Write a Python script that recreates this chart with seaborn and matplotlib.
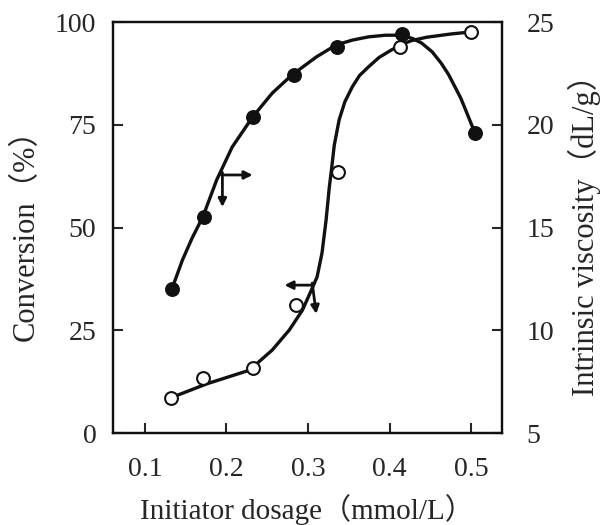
import numpy as np
import pandas as pd
import seaborn as sns
import matplotlib
matplotlib.use("Agg")
import matplotlib.pyplot as plt

# measured points
dosage_conv = [0.132, 0.171, 0.233, 0.285, 0.337, 0.413, 0.500]
conversion = [8.5, 13.4, 15.8, 31.1, 63.5, 93.9, 97.6]

dosage_visc = [0.133, 0.172, 0.232, 0.283, 0.335, 0.415, 0.504]
viscosity = [12.0, 15.5, 20.4, 22.4, 23.8, 24.4, 19.6]

# hand-drawn trend curves
conv_curve_x = [0.137, 0.176, 0.228, 0.256, 0.277, 0.293, 0.304, 0.311, 0.317,
                0.322, 0.326, 0.329, 0.332, 0.338, 0.345, 0.354, 0.363, 0.374,
                0.387, 0.402, 0.415, 0.427, 0.445, 0.460, 0.475, 0.500]
conv_curve_y = [9.0, 12.0, 15.3, 20.2, 25.1, 29.9, 34.8, 38.0, 43.8,
                51.8, 59.9, 64.7, 70.0, 76.2, 80.6, 84.2, 87.0, 89.1,
                91.4, 93.2, 94.6, 95.5, 96.3, 96.7, 97.1, 97.6]

visc_curve_x = [0.133, 0.146, 0.158, 0.171, 0.188, 0.207, 0.232, 0.256, 0.280,
                0.310, 0.334, 0.354, 0.374, 0.395, 0.413, 0.428, 0.439, 0.452,
                0.463, 0.472, 0.480, 0.487, 0.493, 0.504]
visc_curve_y = [12.0, 13.42, 14.5, 15.52, 17.32, 18.92, 20.38, 21.54, 22.42,
                23.30, 23.88, 24.12, 24.28, 24.36, 24.36, 24.20, 23.98, 23.55,
                23.0, 22.45, 21.84, 21.3, 20.72, 19.64]

sns.set_style("ticks")
plt.rcParams["font.family"] = ["Liberation Serif", "Noto Sans CJK SC"]
plt.rcParams["axes.linewidth"] = 1.6

fig = plt.figure(figsize=(6.09, 5.25), dpi=100)
ax = fig.add_axes([0.1856, 0.175, 0.638, 0.783])
ax2 = ax.twinx()

ink = "#111111"

sns.lineplot(x=conv_curve_x, y=conv_curve_y, ax=ax, color=ink, linewidth=2.4,
             sort=False, estimator=None)
sns.scatterplot(x=dosage_conv, y=conversion, ax=ax, marker="o", s=85,
                facecolor="white", edgecolor=ink, linewidth=1.5, zorder=5)

sns.lineplot(x=visc_curve_x, y=visc_curve_y, ax=ax2, color=ink, linewidth=2.4,
             sort=False, estimator=None)
sns.scatterplot(x=dosage_visc, y=viscosity, ax=ax2, marker="o", s=95,
                color=ink, edgecolor=ink, linewidth=1, zorder=5)

ax.set_xlim(0.061, 0.537)
ax.set_ylim(0, 100)
ax2.set_ylim(5, 25)
ax.set_xticks([0.1, 0.2, 0.3, 0.4, 0.5])
ax.set_xticklabels(["0.1", "0.2", "0.3", "0.4", "0.5"])
ax.set_yticks([0, 25, 50, 75, 100])
ax2.set_yticks([5, 10, 15, 20, 25])

ax.tick_params(axis="x", direction="in", length=7, width=1.5, pad=17, labelsize=20)
ax.tick_params(axis="y", direction="in", length=7, width=1.5, pad=12, labelsize=20)
ax2.tick_params(axis="y", direction="in", length=7, width=1.5, pad=18, labelsize=20)

ax.set_xlabel("Initiator dosage（mmol/L）", fontsize=21, labelpad=9)
ax.set_ylabel("Conversion（%）", fontsize=22, labelpad=10)
ax2.set_ylabel("Intrinsic viscosity（dL/g）", fontsize=22, labelpad=10)

for s in ax.spines.values():
    s.set_color(ink)
for s in ax2.spines.values():
    s.set_color(ink)

# axis indicator arrows
arrow = dict(arrowstyle="-|>", color=ink, lw=2, mutation_scale=12, shrinkA=0, shrinkB=0)
ax.annotate("", xy=(0.232, 62.8), xytext=(0.194, 62.8), arrowprops=arrow)
ax.annotate("", xy=(0.195, 55.0), xytext=(0.195, 63.4), arrowprops=arrow)
ax.annotate("", xy=(0.271, 36.0), xytext=(0.306, 36.0), arrowprops=arrow)
ax.annotate("", xy=(0.310, 29.0), xytext=(0.305, 36.5), arrowprops=arrow)

fig.savefig("out.png", dpi=100)
